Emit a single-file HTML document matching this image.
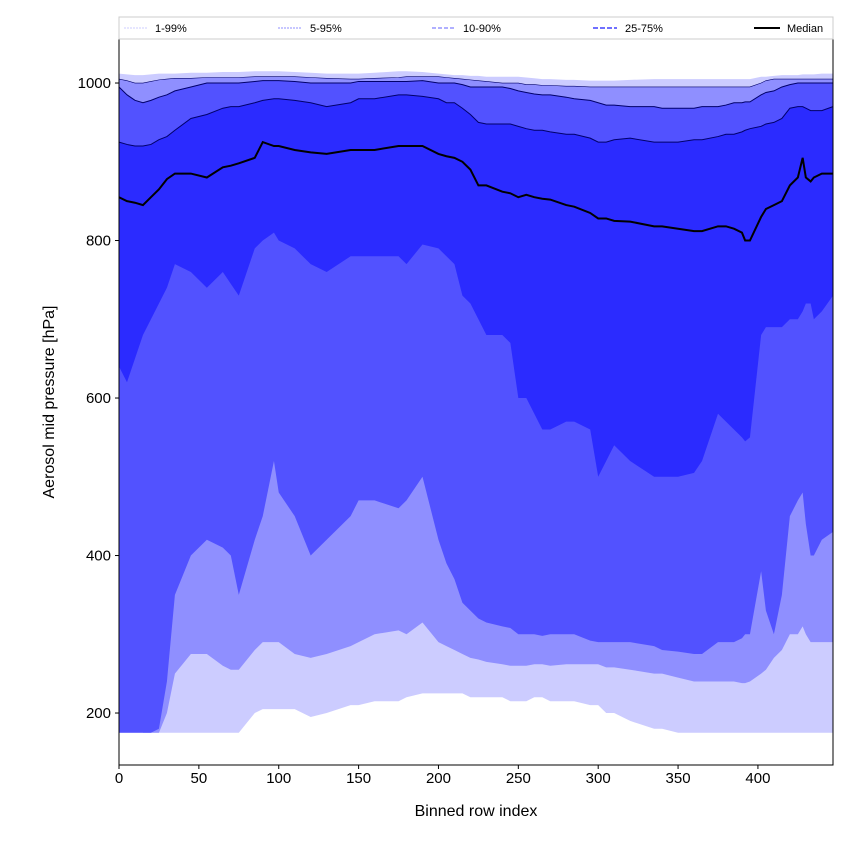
<!DOCTYPE html>
<html><head><meta charset="utf-8"><style>
body{margin:0;background:#fff;font-family:"Liberation Sans","DejaVu Sans",sans-serif}
</style></head><body>
<svg id="c" width="850" height="850" xmlns="http://www.w3.org/2000/svg"></svg>
<script>
const xs   =[0,5,10,15,20,25,30,35,45,55,65,70,75,85,90,97,100,110,120,130,145,150,160,175,180,190,200,205,210,215,220,225,230,240,245,250,255,260,265,270,280,285,295,300,305,310,320,335,340,350,360,365,375,380,385,390,392,395,402,405,410,415,420,425,428,430,433,435,440,447];
const p1   =[175,175,175,175,175,175,175,175,175,175,175,175,175,200,205,205,205,205,195,200,210,210,215,215,220,225,225,225,225,225,220,220,220,220,215,215,215,220,220,215,215,215,210,210,200,200,190,180,180,175,175,175,175,175,175,175,175,175,175,175,175,175,175,175,175,175,175,175,175,175];
const p5   =[240,230,200,175,175,175,200,250,275,275,260,255,255,280,290,290,290,275,270,275,285,290,300,305,300,315,290,285,280,275,270,268,265,262,260,260,260,262,262,260,262,262,262,262,258,258,255,250,250,245,240,240,240,240,240,238,238,240,250,255,270,280,300,300,310,300,290,290,290,290];
const p10  =[175,175,175,175,175,180,240,350,400,420,410,400,350,420,450,520,480,450,400,420,450,470,470,460,470,500,420,390,370,340,330,320,315,310,308,300,300,300,298,300,300,300,292,290,290,290,290,285,280,278,275,275,290,290,290,295,300,300,380,330,300,350,450,470,480,440,400,400,420,430];
const p25  =[640,620,650,680,700,720,740,770,760,740,760,745,730,790,800,810,800,790,770,760,780,780,780,780,770,795,790,780,770,730,720,700,680,680,670,600,600,580,560,560,570,570,560,500,520,540,520,500,500,500,505,520,580,570,560,550,545,550,680,690,690,690,700,700,710,720,720,700,710,730];
const med  =[855,850,848,845,855,865,878,885,885,880,893,895,898,905,925,920,920,915,912,910,915,915,915,920,920,920,910,907,905,900,890,870,870,862,860,855,858,855,853,852,845,843,835,828,828,825,824,818,818,815,812,812,818,818,815,810,800,800,830,840,845,850,870,880,905,880,875,880,885,885];
const p75  =[925,922,920,920,922,928,932,940,955,960,968,970,970,975,978,980,980,978,975,970,975,980,980,985,985,983,980,975,975,968,960,950,948,948,948,945,942,940,940,938,935,935,930,925,925,928,930,925,925,925,928,928,932,935,935,938,940,942,945,948,950,955,968,970,970,968,965,965,965,970];
const p90  =[995,985,978,975,978,982,985,990,995,1000,1000,1000,1000,1002,1003,1003,1003,1002,1000,1000,1000,1002,1002,1002,1002,1003,1000,1000,1000,998,995,995,995,995,993,990,988,986,985,985,982,980,978,975,972,972,970,970,968,968,968,970,970,972,975,975,976,976,985,988,990,995,998,1000,1000,1000,1000,1000,1000,1000];
const p95  =[1005,1003,1000,1000,1002,1004,1005,1006,1006,1007,1007,1007,1007,1008,1008,1008,1008,1008,1007,1006,1005,1005,1006,1007,1008,1008,1008,1007,1006,1005,1004,1003,1002,1000,1000,1000,998,998,997,997,996,996,995,995,995,995,995,995,995,995,995,995,995,995,995,995,995,995,1000,1003,1005,1005,1005,1005,1005,1005,1005,1005,1005,1005];
const p99  =[1012,1011,1010,1010,1011,1012,1012,1012,1013,1013,1014,1014,1014,1015,1015,1015,1015,1014,1013,1012,1012,1012,1013,1015,1015,1014,1012,1011,1010,1010,1009,1009,1008,1008,1008,1008,1007,1006,1005,1005,1004,1004,1003,1003,1003,1003,1004,1005,1005,1005,1005,1005,1005,1005,1005,1005,1005,1005,1008,1008,1009,1010,1010,1010,1011,1011,1011,1011,1012,1012];
const xTicks=[0,50,100,150,200,250,300,350,400];
const yTicks=[200,400,600,800,1000];

const L=119,R=833,T=39,B=765,X0=0,X1=447,Y0=134,Y1=1055.9;
const sx=v=>L+(v-X0)/(X1-X0)*(R-L);
const sy=v=>B-(v-Y0)/(Y1-Y0)*(B-T);
const svg=document.getElementById('c');
const NS='http://www.w3.org/2000/svg';
function mk(t,a,p){const e=document.createElementNS(NS,t);for(const k in a)e.setAttribute(k,a[k]);(p||svg).appendChild(e);return e;}
function band(hi,lo,col,name){
  let pts=xs.map((x,i)=>sx(x)+','+sy(hi[i]));
  for(let i=xs.length-1;i>=0;i--)pts.push(sx(xs[i])+','+sy(lo[i]));
  const e=mk('polygon',{points:pts.join(' '),fill:col});
  
  
}
function line(arr,col,w,dash,name){
  const e=mk('polyline',{points:xs.map((x,i)=>sx(x)+','+sy(arr[i])).join(' '),fill:'none',stroke:col,'stroke-width':w,'stroke-dasharray':dash||'none'});
  
  
}
const cp=mk('clipPath',{id:'cp'});mk('rect',{x:L,y:T,width:R-L,height:B-T},cp);
band(p99,p1,'#ccccff','band-1-99');
band(p95,p5,'#8f8fff','band-5-95');
band(p90,p10,'#5252ff','band-10-90');
band(p75,p25,'#2b2bff','band-25-75');
line(p95,'#00006a',0.6,null,'line-p95');
line(p90,'#00006a',1,null,'line-p90');
line(p75,'#00006a',1,null,'line-p75');
line(med,'#000',2,null,'median-line');
const fr=mk('rect',{x:L,y:T,width:R-L,height:B-T,fill:'none',stroke:'#000','stroke-width':1});


xTicks.forEach(v=>{
  mk('line',{x1:sx(v),x2:sx(v),y1:B,y2:B+4,stroke:'#000'});
  const t=mk('text',{x:sx(v),y:B+18,'text-anchor':'middle','font-size':15});t.textContent=v;
  
  
});
yTicks.forEach(v=>{
  mk('line',{x1:L-4,x2:L,y1:sy(v),y2:sy(v),stroke:'#000'});
  const t=mk('text',{x:L-8,y:sy(v)+5,'text-anchor':'end','font-size':15});t.textContent=v;
  
  
});
</script>
<svg width="850" height="850" style="position:absolute;left:0;top:0" xmlns="http://www.w3.org/2000/svg">
<text x="476" y="816" text-anchor="middle" font-size="16">Binned row index</text>
<text transform="translate(54,402) rotate(-90)" text-anchor="middle" font-size="16">Aerosol mid pressure [hPa]</text>
<g>
<rect x="119" y="17" width="714" height="22" fill="#fff" stroke="#ccc"/>
<g><line x1="124" x2="148" y1="28" y2="28" stroke="#ccccff" stroke-width="1" stroke-dasharray="2,1"/><text x="155" y="32" font-size="11">1-99%</text></g>
<g><line x1="278" x2="302" y1="28" y2="28" stroke="#8f8fff" stroke-width="1" stroke-dasharray="2,1"/><text x="310" y="32" font-size="11">5-95%</text></g>
<g><line x1="432" x2="456" y1="28" y2="28" stroke="#8080ff" stroke-width="1.2" stroke-dasharray="4,2"/><text x="463" y="32" font-size="11">10-90%</text></g>
<g><line x1="593" x2="617" y1="28" y2="28" stroke="#4040ff" stroke-width="1.5" stroke-dasharray="5,2"/><text x="625" y="32" font-size="11">25-75%</text></g>
<g><line x1="754" x2="780" y1="28" y2="28" stroke="#000" stroke-width="2"/><text x="787" y="32" font-size="11">Median</text></g>
</g>
</svg>
</body></html>
